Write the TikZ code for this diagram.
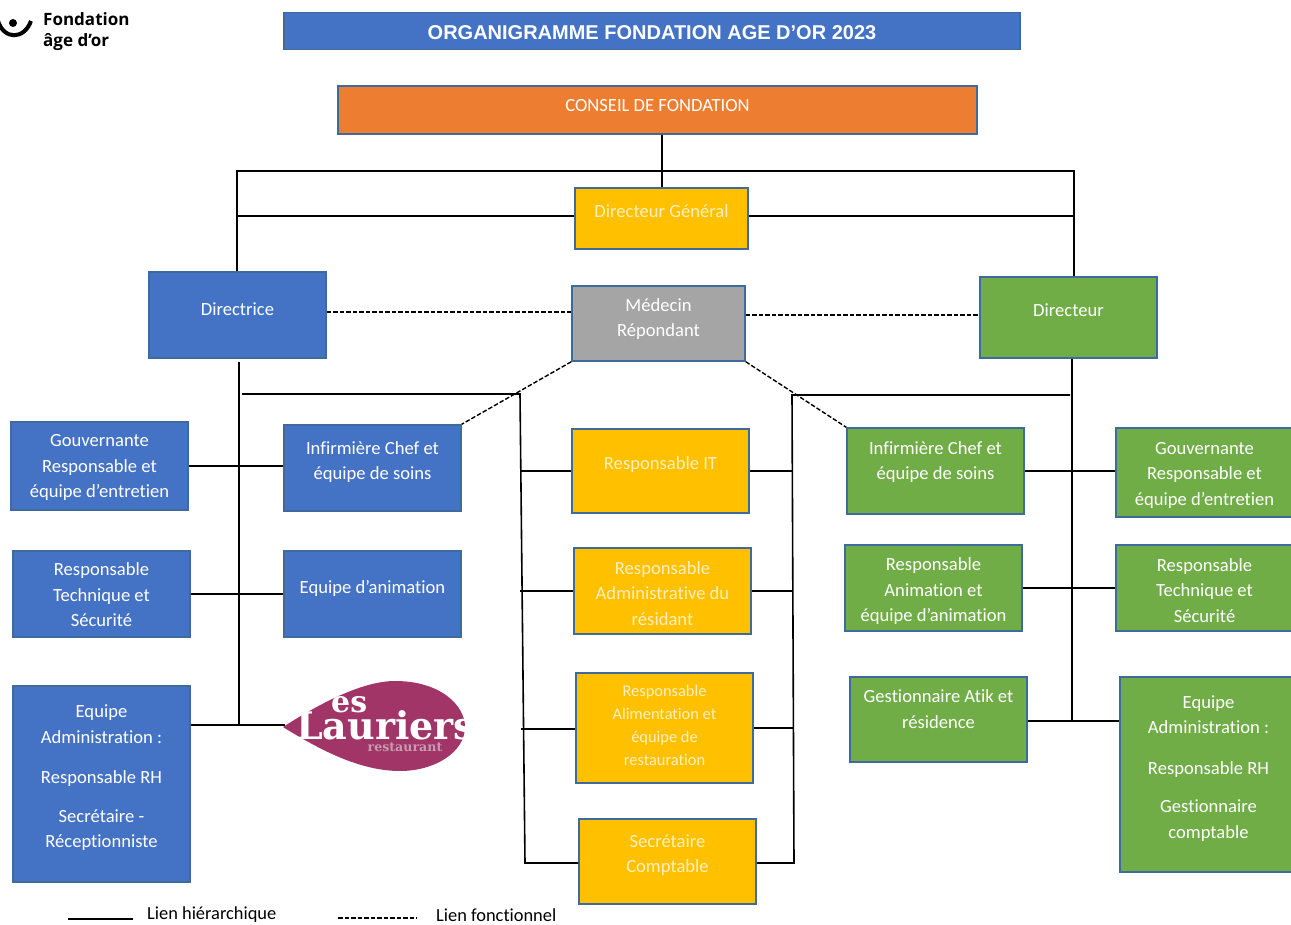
\documentclass[tikz,border=0pt]{standalone}
\usepackage{fontspec}
\setmainfont[Ligatures=NoCommon]{Carlito}
\newfontfamily\headfont{Liberation Sans}
\newfontfamily\logofont{Open Sans}
\newfontfamily\laurfont{DejaVu Serif}
\definecolor{boxblue}{HTML}{4472C4}
\definecolor{boxorange}{HTML}{ED7D31}
\definecolor{boxyellow}{HTML}{FFC000}
\definecolor{boxgreen}{HTML}{70AD47}
\definecolor{boxgrey}{HTML}{A5A5A5}
\definecolor{boxline}{HTML}{3E6A9E}
\definecolor{laurpurple}{HTML}{A23568}
\definecolor{laurgrey}{HTML}{C59BB0}
\definecolor{yellowtext}{HTML}{FFEFC0}
\newcommand{\uptext}[3][170pt]{\raisebox{#2}[0pt][0pt]{\parbox[c]{#1}{\centering #3}}}
\tikzset{
  orgbox/.style={draw=boxline,line width=1.5pt,inner sep=0pt,align=center,text=white,
    font=\fontsize{18.6}{25.5}\selectfont},
  bluebox/.style={orgbox,fill=boxblue},
  greenbox/.style={orgbox,fill=boxgreen},
  yellowbox/.style={orgbox,fill=boxyellow,text=yellowtext},
  size/.style 2 args={minimum width=#1pt,minimum height=#2pt},
  hier/.style={line width=1.6pt,black},
  func/.style={line width=1.4pt,black,dash pattern=on 4.5pt off 2pt},
  legend/.style={inner sep=0pt,anchor=west,font=\fontsize{18.4}{22}\selectfont}
}
\begin{document}
\begin{tikzpicture}[x=1pt,y=-1pt]
  \useasboundingbox (0,0) rectangle (1291,925);
  % logo fondation
  \fill[black] (13,23) circle (4);
  \draw[black,line width=4pt] (-2,21) .. controls (4,40) and (24,40) .. (31,21);
  \node (fondname) [inner sep=0pt,anchor=west,align=left,font=\logofont\bfseries\fontsize{17}{21}\selectfont]
    at (43,32) {Fondation\\âge d’or};

  % titres
  \node (title) [orgbox,fill=boxblue,size={736}{37},font=\headfont\bfseries\fontsize{20}{24}\selectfont] at (652,31)
    {\uptext[700pt]{-6.5pt}{ORGANIGRAMME FONDATION AGE D’OR 2023}};
  \node (conseil) [orgbox,fill=boxorange,size={639}{48}] at (657.5,110) {\uptext[400pt]{0pt}{CONSEIL DE FONDATION}};

  % direction
  \node (dg) [yellowbox,size={173}{61}] at (661.5,218.5) {\uptext{3pt}{Directeur Général}};
  \node (directrice) [bluebox,size={177}{86}] at (237.5,315) {\uptext{2pt}{Directrice}};
  \node (medecin) [orgbox,fill=boxgrey,size={173}{75}] at (658.5,323.5) {\uptext{0pt}{Médecin\\Répondant}};
  \node (directeur) [greenbox,size={177}{81}] at (1068.5,317.5) {\uptext{3pt}{Directeur}};

  % colonne gauche
  \node (lgouv) [bluebox,size={177}{88}] at (99.5,466) {\uptext{-6pt}{Gouvernante\\Responsable et\\équipe d’entretien}};
  \node (ltech) [bluebox,size={177}{86}] at (101.5,594) {\uptext{-5pt}{Responsable\\Technique et\\Sécurité}};
  \node (ladmin) [bluebox,size={177}{196}] at (101.5,784)
    {\uptext{2pt}{Equipe\\Administration :\\[15pt]Responsable RH\\[13pt]Secrétaire -\\Réceptionniste}};
  \node (linf) [bluebox,size={177}{86}] at (372.5,468) {\uptext{1.5pt}{Infirmière Chef et\\équipe de soins}};
  \node (lanim) [bluebox,size={177}{86}] at (372.5,594) {\uptext{1pt}{Equipe d’animation}};

  % logo restaurant
  \fill[laurpurple] (283,727) .. controls (325,700) and (365,681) .. (395,681)
    .. controls (440,681) and (465,705) .. (465,727)
    .. controls (465,752) and (435,771) .. (400,771)
    .. controls (360,771) and (320,750) .. (283,727) -- cycle;
  \node (lauriers) [inner sep=0pt,anchor=base west,text=white,font=\laurfont\bfseries\fontsize{38}{38}\selectfont]
    at (296,739) {Lauriers};
  \node (lauries) [inner sep=0pt,anchor=base west,text=white,font=\laurfont\bfseries\fontsize{30}{30}\selectfont]
    at (331,712) {es};
  \node (laurrest) [inner sep=0pt,text=laurgrey,font=\laurfont\bfseries\fontsize{12.6}{13}\selectfont]
    at (405,747) {restaurant};

  % colonne centre
  \node (respit) [yellowbox,size={177}{84}] at (660.5,471) {\uptext{2pt}{Responsable IT}};
  \node (respadm) [yellowbox,size={177}{86}] at (662.5,591) {\uptext{-6.5pt}{Responsable\\Administrative du\\résidant}};
  \node (respalim) [yellowbox,size={177}{110},font=\fontsize{16.4}{23}\selectfont] at (664.5,728)
    {\uptext{-2pt}{Responsable\\Alimentation et\\équipe de\\restauration}};
  \node (seccompta) [yellowbox,size={177}{85}] at (667.5,861.5) {\uptext{2pt}{Secrétaire\\Comptable}};

  % colonne droite
  \node (rinf) [greenbox,size={177}{86}] at (935.5,471) {\uptext{4.5pt}{Infirmière Chef et\\équipe de soins}};
  \node (ranim) [greenbox,size={177}{86}] at (933.5,588) {\uptext{-7.5pt}{Responsable\\Animation et\\équipe d’animation}};
  \node (rgest) [greenbox,size={177}{85}] at (938.5,719.5) {\uptext{6pt}{Gestionnaire Atik et\\résidence}};
  \node (rgouv) [greenbox,size={177}{89}] at (1204.5,472.5) {\uptext{-7pt}{Gouvernante\\Responsable et\\équipe d’entretien}};
  \node (rtech) [greenbox,size={177}{86}] at (1204.5,588) {\uptext{-6.5pt}{Responsable\\Technique et\\Sécurité}};
  \node (radmin) [greenbox,size={177}{195}] at (1208.5,774.5)
    {\uptext{2pt}{Equipe\\Administration :\\[15pt]Responsable RH\\[13pt]Gestionnaire\\comptable}};

  % liens hierarchiques
  \coordinate (topbar)  at (662,171);
  \coordinate (topleft) at (237,171);
  \coordinate (topright) at (1074,171);
  \coordinate (dgline)  at (0,216);
  \coordinate (lstart)  at (239,362);
  \coordinate (lbar)    at (242,394);
  \coordinate (lcol)    at (520,394);
  \coordinate (lcolend) at (525,863);
  \coordinate (alimrow) at (521,729);
  \coordinate (rbar)    at (1070,395);
  \coordinate (rcol)    at (792,395);
  \coordinate (rcolend) at (794,863);
  \coordinate (lend)    at (239,725);
  \coordinate (rend)    at (1072,721);
  \coordinate (laurtip) at (285,725);
  \draw[hier] (conseil.south -| topbar) -- (dg.north -| topbar);
  \draw[hier] (directrice.north -| topleft) -- (topleft) -- (topright) -- (directeur.north -| topright);
  \draw[hier] (dg.west |- dgline) -- (topleft |- dgline);
  \draw[hier] (dg.east |- dgline) -- (topright |- dgline);
  \draw[hier] (lstart) -- (lend);
  \draw[hier] (directeur.south -| rend) -- (rend);
  \draw[hier] (lbar) -- (lcol) -- (lcolend) -- (seccompta.west |- lcolend);
  \draw[hier] (rbar) -- (rcol) -- (rcolend) -- (seccompta.east |- rcolend);
  \draw[hier] (lgouv.east) -- (linf.west |- lgouv.east);
  \draw[hier] (ltech.east) -- (lanim.west);
  \draw[hier] (ladmin.east |- lend) -- (laurtip);
  \draw[hier] (lcol |- respit.west) -- (respit.west);
  \draw[hier] (lcol |- respadm.west) -- (respadm.west);
  \draw[hier] (alimrow) -- (respalim.west |- alimrow);
  \draw[hier] (respit.east) -- (rcol |- respit.east);
  \draw[hier] (respadm.east) -- (rcol |- respadm.east);
  \draw[hier] (respalim.east) -- (rcolend |- respalim.east);
  \draw[hier] (rinf.east) -- (rgouv.west |- rinf.east);
  \draw[hier] (ranim.east) -- (rtech.west);
  \draw[hier] (rgest.east |- rend) -- (radmin.west |- rend);

  % liens fonctionnels
  \coordinate (fleft)  at (0,312);
  \coordinate (fright) at (0,315);
  \draw[func] (directrice.east |- fleft) -- (medecin.west |- fleft);
  \draw[func] (medecin.east |- fright) -- (directeur.west |- fright);
  \draw[func] (medecin.south west) -- (linf.north east);
  \draw[func] (medecin.south east) -- (rinf.north west);

  % legende
  \coordinate (hierstart) at (68,919);
  \coordinate (hierend)   at (133,919);
  \coordinate (funcstart) at (338,918);
  \coordinate (funcend)   at (417,918);
  \draw[hier] (hierstart) -- (hierend);
  \draw[func] (funcstart) -- (funcend);
  \node (hierlabel) [legend] at (147,915) {Lien hiérarchique};
  \node (funclabel) [legend] at (436,915) {Lien fonctionnel};
\end{tikzpicture}
\end{document}
